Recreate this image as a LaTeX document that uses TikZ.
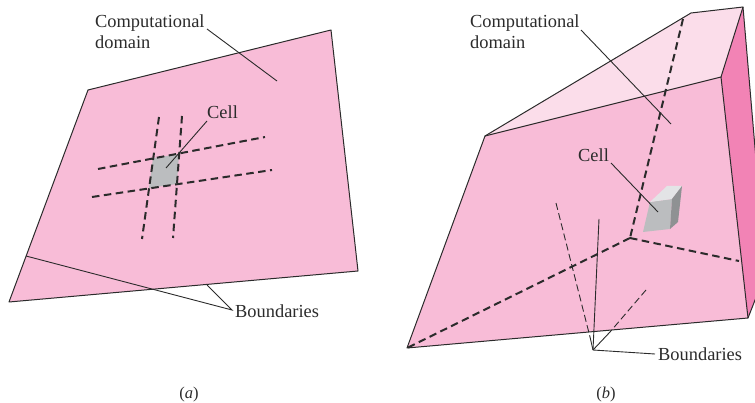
\documentclass[tikz,border=0pt]{standalone}
\usepackage{fontspec}
\setmainfont{Liberation Serif}
\definecolor{facepink}{HTML}{F8BCD7}
\definecolor{toppink}{HTML}{FBDDEA}
\definecolor{sidepink}{HTML}{F283B5}
\definecolor{inkc}{HTML}{2B2B2B}
\definecolor{cellg}{HTML}{BBBDBF}
\definecolor{cellt}{HTML}{E3E4E6}
\definecolor{cellr}{HTML}{8F9193}
\tikzset{
  face/.style={draw=inkc,line width=1pt,line join=round},
  leader/.style={draw=inkc,line width=0.9pt},
  griddash/.style={draw=inkc,line width=2pt,dash pattern=on 7.5pt off 4.5pt},
  griddashthin/.style={draw=inkc,line width=0.9pt,dash pattern=on 7pt off 3.5pt},
  lbl/.style={inner sep=0pt,anchor=base west,text=inkc,font=\fontsize{18.4}{22}\selectfont},
  capt/.style={inner sep=0pt,anchor=base,text=inkc,font=\fontsize{16.5}{20}\selectfont},
}
\begin{document}
\begin{tikzpicture}[x=1pt,y=-1pt]
\useasboundingbox (0,0) rectangle (755,403);
\clip (0,0) rectangle (755,403);
% ---------- (a)
\coordinate (a1) at (9,302);
\coordinate (a2) at (88,90);
\coordinate (a3) at (331,30);
\coordinate (a4) at (358,271);
\fill[facepink] (a1)--(a2)--(a3)--(a4)--cycle;
\draw[face] (a1)--(a2)--(a3)--(a4)--cycle;
\fill[cellg] (153,158)--(179,154)--(177,184)--(149,188)--cycle;
\coordinate (av1a) at (159,117); \coordinate (av1b) at (142,239);
\coordinate (av2a) at (182,116); \coordinate (av2b) at (173,238);
\coordinate (ah1a) at (98,169);  \coordinate (ah1b) at (265,137);
\coordinate (ah2a) at (92,197);  \coordinate (ah2b) at (272,170);
\draw[griddash] (av1a)--(av1b);
\draw[griddash] (av2a)--(av2b);
\draw[griddash] (ah1a)--(ah1b);
\draw[griddash] (ah2a)--(ah2b);
\node[lbl] (acomp) at (95,28) {Computational};
\node[lbl] (adom) at (95,49) {domain};
\node[lbl] (acell) at (207,119) {Cell};
\node[lbl] (abound) at (235,317) {Boundaries};
\node[capt] (acap) at (189,398) {(\textit{a})};
\coordinate (al1a) at (207,29); \coordinate (al1b) at (277,81);
\coordinate (al2a) at (207,121); \coordinate (al2b) at (166,168);
\coordinate (al3a) at (232,310); \coordinate (al3b) at (26,256); \coordinate (al3c) at (207,285);
\draw[leader] (al1a)--(al1b);
\draw[leader] (al2a)--(al2b);
\draw[leader] (al3b)--(al3a)--(al3c);
% ---------- (b)
\coordinate (b1) at (407,348);
\coordinate (b2) at (485,136);
\coordinate (b3) at (721,77);
\coordinate (b4) at (748,318);
\coordinate (b5) at (691,13);
\coordinate (b6) at (743,7);
\coordinate (b7) at (768,300);
\coordinate (b8) at (768,267);
\fill[toppink] (b2)--(b5)--(b6)--(b3)--cycle;
\fill[facepink] (b1)--(b2)--(b3)--(b4)--cycle;
\fill[sidepink] (b3)--(b6)--(b7)--(b8)--(b4)--cycle;
\coordinate (bc) at (630,238);
\coordinate (bt) at (683,19);
\coordinate (br) at (739,261);
\draw[griddash] (bt)--(bc);
\draw[griddash] (bc)--(b1);
\draw[griddash] (bc)--(br);
\draw[face] (b1)--(b2)--(b3)--(b4)--cycle;
\draw[face] (b2)--(b5)--(b6)--(b3);
\draw[face] (b6)--(b7);
\draw[face] (b4)--(b8);
\coordinate (bd1a) at (556,203); \coordinate (bd1b) at (590,337);
\coordinate (bd2a) at (646,290); \coordinate (bd2b) at (610,332);
\draw[griddashthin] (bd1a)--(bd1b);
\draw[griddashthin] (bd2a)--(bd2b);
\fill[cellg] (650,202)--(672,199)--(670,229)--(643,232)--cycle;
\fill[cellt] (650,202)--(667,186)--(682,186)--(672,199)--cycle;
\fill[cellr] (672,199)--(682,186)--(678,222)--(670,229)--cycle;
\node[lbl] (bcomp) at (470,28) {Computational};
\node[lbl] (bdom) at (470,49) {domain};
\node[lbl] (bcell) at (578,162) {Cell};
\node[lbl] (bbound) at (658,360) {Boundaries};
\node[capt] (bcap) at (606,398) {(\textit{b})};
\coordinate (bl1a) at (581,30); \coordinate (bl1b) at (671,124);
\coordinate (bl2a) at (611,163); \coordinate (bl2b) at (658,212);
\coordinate (bj) at (593,350);
\coordinate (bl3a) at (599,219); \coordinate (bl3b) at (655,354);
\draw[leader] (bl1a)--(bl1b);
\draw[leader] (bl2a)--(bl2b);
\draw[leader] (bj)--(bl3a);
\draw[leader] (bj)--(bl3b);
\draw[leader] (bj)--(bd1b);
\draw[leader] (bj)--(bd2b);
\end{tikzpicture}
\end{document}
